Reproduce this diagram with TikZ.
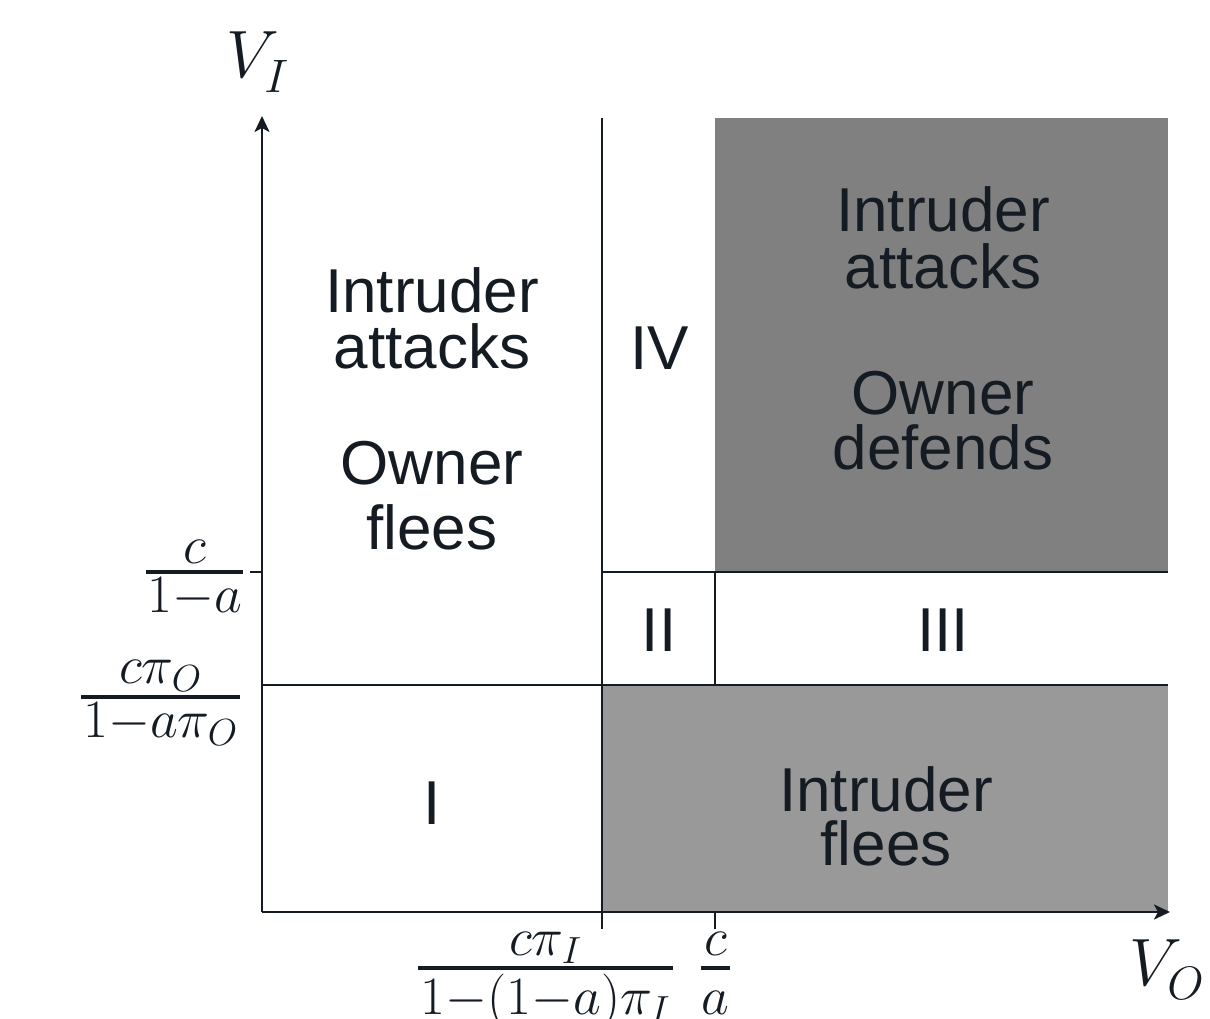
\RequirePackage{fix-cm}
\documentclass[tikz,border=0pt]{standalone}
\usepackage{amsmath}
\usepackage{fontspec}
\newfontfamily\hv{Liberation Sans}
\usetikzlibrary{arrows.meta}
\definecolor{ink}{HTML}{141B22}
\definecolor{darkfill}{HTML}{808080}
\definecolor{lightfill}{HTML}{999999}
\newcommand{\mmin}{\mathord{-}}
\tikzset{
  axis/.style={draw=ink, line width=2.6pt, -{Stealth[length=16pt,width=15pt,inset=4pt]}},
  grid/.style={draw=ink, line width=1.8pt},
  tick/.style={draw=ink, line width=1.8pt},
  fracbar/.style={draw=ink, line width=3.5pt},
  region/.style={inner sep=0pt, anchor=base, text=ink, font=\hv\fontsize{62}{62}\selectfont},
  mlab/.style={inner sep=0pt, anchor=base, text=ink, font=\fontsize{54}{54}\selectfont},
  vlab/.style={inner sep=0pt, anchor=base west, text=ink, font=\fontsize{67}{67}\selectfont},
}
\begin{document}
\begin{tikzpicture}[x=1pt,y=-1pt]
\useasboundingbox (0,0) rectangle (1210,1019);
% key coordinates
\coordinate (O) at (262,912);
\coordinate (Xend) at (1170,912);
\coordinate (Yend) at (262,116);
% shaded regions
\fill[darkfill] (715,118) rectangle (1168,572);
\fill[lightfill] (602,685) rectangle (1168,912);
% grid lines
\draw[grid] (602,118) -- (602,912);
\draw[grid] (715,572) -- (715,685);
\draw[grid] (602,572) -- (1168,572);
\draw[grid] (262,685) -- (1168,685);
% ticks
\draw[tick] (602,912) -- (602,929);
\draw[tick] (715,912) -- (715,929);
\draw[tick] (250,572) -- (262,572);
% axes
\draw[axis] (O) -- (Xend);
\draw[axis] (O) -- (Yend);
% axis labels
\node[vlab] (vi) at (226,78) {$V_{\lower4pt\hbox{$\scriptstyle I$}}$};
\node[vlab] (vo) at (1129,985) {$V_{\lower4pt\hbox{$\scriptstyle O$}}$};
% tick label c/(1-a)
\node[mlab] (f1n) at (194.5,563) {$c$};
\draw[fracbar] (146,572) -- (243,572);
\node[mlab] (f1d) at (194.5,612) {$1\mmin a$};
% tick label c pi_O / (1 - a pi_O)
\node[mlab] (f2n) at (160.5,683) {$c\pi_O$};
\draw[fracbar] (81,697) -- (240,697);
\node[mlab] (f2d) at (160.5,737) {$1\mmin a\pi_O$};
% tick label c pi_I / (1-(1-a) pi_I)
\node[mlab] (f3n) at (545.5,955) {$c\pi_I$};
\draw[fracbar] (418,968) -- (673,968);
\node[mlab] (f3d) at (545.5,1014) {$1\mmin(1\mmin a)\pi_I$};
% tick label c/a
\node[mlab] (f4n) at (715.5,955) {$c$};
\draw[fracbar] (701,968) -- (730,968);
\node[mlab] (f4d) at (715.5,1014) {$a$};
% region texts
\node[region] (l1) at (432,312) {Intruder};
\node[region] (l2) at (432,368) {attacks};
\node[region] (l3) at (432,484) {Owner};
\node[region] (l4) at (432,549) {flees};
\node[region] (d1) at (943,232) {Intruder};
\node[region] (d2) at (943,288) {attacks};
\node[region] (d3) at (943,414) {Owner};
\node[region] (d4) at (943,469) {defends};
\node[region] (b1) at (886,811) {Intruder};
\node[region] (b2) at (886,865) {flees};
\node[region] (r4) at (660,369) {IV};
\node[region] (r2) at (659,651) {II};
\node[region] (r3) at (943,651) {III};
\node[region] (r1) at (432,824) {I};
\end{tikzpicture}
\end{document}
